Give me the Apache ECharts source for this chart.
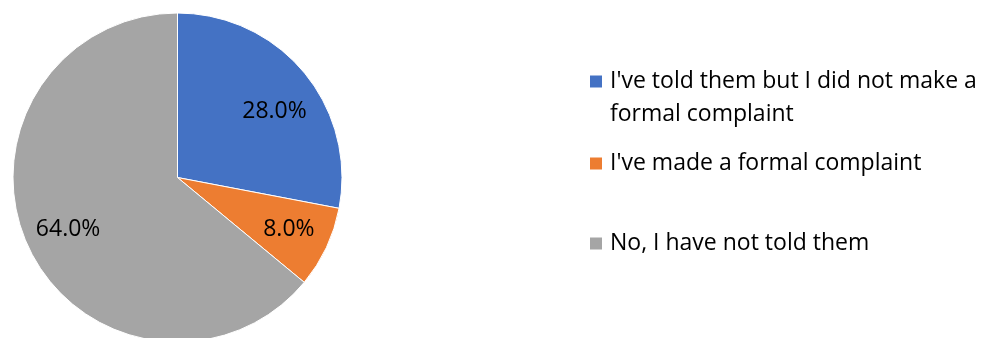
<!DOCTYPE html>
<html>
<head>
<meta charset="utf-8">
<script src="https://cdn.jsdelivr.net/npm/echarts@6/dist/echarts.min.js"></script>
<style>
	html, body { margin: 0; padding: 0; background: #fff; }
	#pieChart { width: 991px; height: 338px; }
</style>
</head>
<body>
<div id="pieChart"></div>
<script>
	var answers = ["I've told them but I did not make a formal complaint", "I've made a formal complaint", "No, I have not told them"];
	var shares = [28.0, 8.0, 64.0];
	var colors = ['#4472C4', '#ED7D31', '#A5A5A5'];

	var count = [];
	$each = function(arr, fn){ for(var i = 0; i < arr.length; i++){ fn(i, arr[i]); } };
	$each(answers, function(index, value){
		count.push({ name: value, value: shares[index], itemStyle: { color: colors[index] } });
	});

	var font = 'Open Sans';
	var legendTops = [32, 147, 227];
	var legends = [];
	$each(answers, function(index, value){
		legends.push({
			orient: 'vertical',
			left: 588,
			top: legendTops[index],
			padding: 0,
			data: [value],
			itemWidth: 14,
			itemHeight: 14,
			icon: 'rect',
			selectedMode: false,
			formatter: function(name){
				// first entry wraps onto two lines, keep the square on line one
				return index === 0 ? '\n' + name : name;
			},
			textStyle: {
				fontFamily: font,
				fontSize: 23,
				color: '#000',
				lineHeight: 33,
				width: 395,
				overflow: 'break',
				padding: [0, 0, 0, 2]
			}
		});
	});

	// excel nudges the first label a bit lower than the middle of the slice
	var labelOffsets = [[3, 12], [1, 0], [1, 0]];

	var myEchart = echarts.init(document.getElementById('pieChart'));
	var option = {
		animation: false,
		legend: legends,
		series: [{
			name: 'answers',
			type: 'pie',
			radius: 164.5,
			center: [177.5, 177.5],
			startAngle: 90,
			silent: true,
			data: count,
			label: { show: false },
			labelLine: { show: false },
			itemStyle: { borderColor: '#fff', borderWidth: 1 }
		}, {
			// invisible copy only to place the percent labels further out
			name: 'labels',
			type: 'pie',
			radius: 238,
			center: [177.5, 177.5],
			startAngle: 90,
			silent: true,
			data: count.map(function(d, i){
				return { name: d.name, value: d.value, itemStyle: { color: 'rgba(0,0,0,0)' }, label: { offset: labelOffsets[i] } };
			}),
			label: {
				show: true,
				position: 'inside',
				formatter: function(p){ return p.value.toFixed(1) + '%'; },
				fontFamily: font,
				fontSize: 23,
				color: '#000'
			},
			labelLine: { show: false }
		}]
	};
	myEchart.setOption(option);
</script>
</body>
</html>
